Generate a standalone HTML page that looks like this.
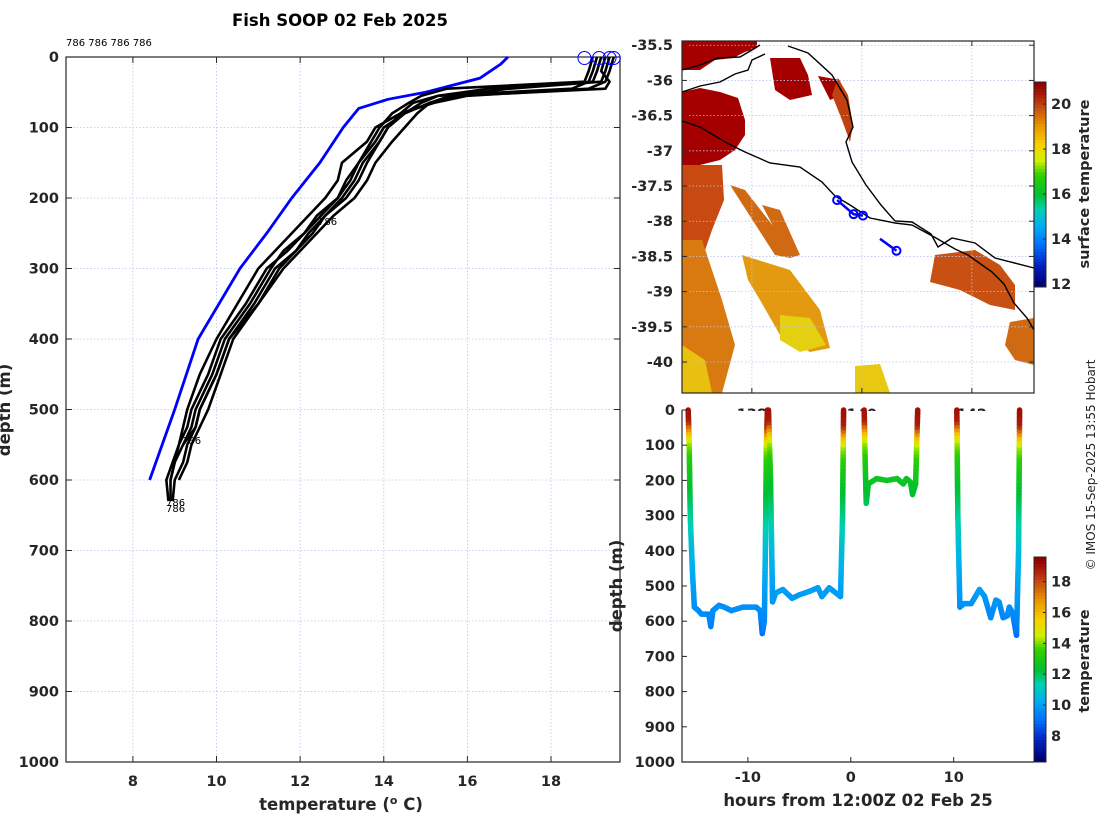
<!DOCTYPE html>
<html><head><meta charset="utf-8"><style>
html,body{margin:0;padding:0;background:#fff;}
svg{display:block;font-family:"DejaVu Sans","Liberation Sans",sans-serif;}
.tk{font-size:14.5px;font-weight:bold;fill:#262626;}
.lb{font-size:16.5px;font-weight:bold;fill:#262626;}
</style></head><body>
<svg id="s" width="1100" height="820" viewBox="0 0 1100 820" xmlns="http://www.w3.org/2000/svg">
<rect width="1100" height="820" fill="#fff"/>
<text x="340" y="26" text-anchor="middle" style="font-size:16.5px;font-weight:bold;fill:#000">Fish SOOP 02 Feb 2025</text>
<g id="left"></g>
<g id="map"></g>
<g id="ts"></g>
<text transform="translate(1095,465) rotate(-90)" text-anchor="middle" style="font-size:12px;fill:#262626">© IMOS 15-Sep-2025 13:55 Hobart</text>
</svg>
<script>
// ---------- data: left profiles ----------
const profDepths=[0,20,35,45,55,65,80,100,120,150,175,200,225,250,275,300,350,400,450,500,525,550,575,600,630];
const prof1=[19.0,18.9,18.8,15.5,14.9,14.6,14.2,13.9,13.7,13.4,13.1,12.9,12.5,12.1,11.7,11.2,10.7,10.1,9.8,9.4,9.3,9.1,9.0,8.9,8.9];
const prof2=[19.2,19.1,19.0,16.5,15.3,14.9,14.5,14.1,13.9,13.5,13.3,13.0,12.6,12.3,11.9,11.4,10.9,10.3,10.0,9.6,9.5,9.3,9.2,9.0,8.95];
const prof3=[19.4,19.3,19.2,17.0,15.6,15.1,14.8,14.5,14.2,13.8,13.6,13.3,12.8,12.4,12.0,11.6,11.0,10.4,10.1,9.8,9.6,9.4,9.3,9.1,null];
const prof4=[19.5,19.4,19.3,18.9,16.0,15.2,14.4,13.8,13.6,13.0,12.9,12.6,12.2,11.8,11.4,11.0,10.5,10.0,9.6,9.3,9.2,9.1,8.95,8.8,8.85];
const prof5=[19.3,19.2,19.4,19.3,15.8,15.1,14.5,14.0,13.8,13.4,13.2,12.9,12.4,12.1,11.6,11.3,10.8,10.2,9.9,9.5,9.4,9.2,9.0,8.9,null];
const prof6=[19.1,19.0,18.9,18.5,15.3,14.7,14.4,14.1,13.9,13.6,13.4,13.1,12.6,12.2,11.9,11.5,11.0,10.3,10.0,9.6,9.5,9.2,null,null,null];
const climDepths=[0,10,30,50,60,73,100,150,200,250,300,400,500,600];
const climTemps=[16.97,16.8,16.3,15.0,14.1,13.4,13.03,12.47,11.8,11.2,10.56,9.56,9.0,8.4];
const surfTemps=[18.8,19.15,19.4,19.5];
const tempTicks=[8,10,12,14,16,18];
const depthTicks=[0,100,200,300,400,500,600,700,800,900,1000];
// ---------- data: time series ----------
const diveA_t=[-15.8,-15.7,-15.6,-15.4,-15.2,-14.8,-14.5,-13.8,-13.6,-13.4,-12.8,-12.3,-11.6,-10.5,-9.2,-8.8,-8.6,-8.4,-8.3,-8.2,-8.1];
const diveA_d=[0,100,300,450,560,570,580,580,615,570,555,560,570,560,560,570,635,600,400,100,0];
const diveB_t=[-8.0,-7.8,-7.6,-7.3,-6.6,-5.7,-5.0,-4.0,-3.2,-2.8,-2.1,-1.0,-0.8,-0.7];
const diveB_d=[0,200,545,520,510,535,525,515,505,530,505,530,300,0];
const diveC_t=[1.3,1.4,1.5,1.7,2.5,3.5,4.5,5.1,5.4,5.8,6.0,6.3,6.5];
const diveC_d=[0,150,265,210,195,200,195,210,195,205,240,210,0];
const diveD_t=[10.3,10.4,10.6,11.0,11.7,12.5,13.0,13.6,14.1,14.4,14.8,15.2,15.4,15.7,16.1,16.3,16.4];
const diveD_d=[0,300,560,550,550,510,530,590,540,545,590,585,560,575,640,400,0];
const sTempDepth=[0,40,60,80,100,150,200,300,400,500,600,650];
const sTempVal=[19.2,18.8,17.2,15.5,14.3,13.2,12.6,11.6,10.6,10.0,9.4,8.8];
const hourTicks=[-10,0,10];
// ---------- data: map ----------
const latTicks=[-35.5,-36,-36.5,-37,-37.5,-38,-38.5,-39,-39.5,-40];
const lonTicks=[138,140,142];
const trackLon=[139.55,139.85,140.02];
const trackLat=[-37.7,-37.9,-37.92];
const track2Lon=[140.33,140.63];
const track2Lat=[-38.25,-38.42];
const sstTicks=[12,14,16,18,20];
const cbTicks=[8,10,12,14,16,18];

const NS="http://www.w3.org/2000/svg";
function E(p,tag,a,txt){const e=document.createElementNS(NS,tag);for(const k in a)e.setAttribute(k,a[k]);if(txt!==undefined)e.textContent=txt;p.appendChild(e);return e;}
const CM=[[0,[0,0,112]],[0.1,[0,32,192]],[0.2,[0,112,255]],[0.3,[0,176,240]],[0.38,[0,208,176]],[0.45,[0,192,48]],[0.55,[48,208,0]],[0.62,[208,240,0]],[0.7,[248,208,0]],[0.8,[232,144,0]],[0.88,[200,80,16]],[0.95,[168,24,8]],[1,[144,0,0]]];
function jet(v){v=Math.max(0,Math.min(1,v));for(let i=1;i<CM.length;i++){if(v<=CM[i][0]){const f=(v-CM[i-1][0])/(CM[i][0]-CM[i-1][0]);const a=CM[i-1][1],b=CM[i][1];return `rgb(${Math.round(a[0]+f*(b[0]-a[0]))},${Math.round(a[1]+f*(b[1]-a[1]))},${Math.round(a[2]+f*(b[2]-a[2]))})`;}}return "rgb(144,0,0)";}
function interp(xs,ys,x){if(x<=xs[0])return ys[0];for(let i=1;i<xs.length;i++){if(x<=xs[i]){const f=(x-xs[i-1])/(xs[i]-xs[i-1]);return ys[i-1]+f*(ys[i]-ys[i-1]);}}return ys[ys.length-1];}
const grid={stroke:"#b8c4ec","stroke-width":0.8,"stroke-dasharray":"1.5,2"};

// ===== LEFT PLOT =====
(function(){
const g=document.getElementById('left');
const L=66,R=620,T=57,B=762,xmin=6.4,xmax=19.65;
const X=t=>L+(t-xmin)/(xmax-xmin)*(R-L), Y=d=>T+d/1000*(B-T);
tempTicks.forEach(t=>{const l=E(g,'line',Object.assign({x1:X(t),x2:X(t),y1:T,y2:B},grid));});
depthTicks.forEach(d=>{const l=E(g,'line',Object.assign({x1:L,x2:R,y1:Y(d),y2:Y(d)},grid));});
const fr=E(g,'rect',{x:L,y:T,width:R-L,height:B-T,fill:"none",stroke:"#262626","stroke-width":1.2});

tempTicks.forEach(t=>{E(g,'line',{x1:X(t),x2:X(t),y1:B,y2:B-6,stroke:"#262626"});E(g,'line',{x1:X(t),x2:X(t),y1:T,y2:T+6,stroke:"#262626"});
 const tx=E(g,'text',{x:X(t),y:B+24,"text-anchor":"middle",class:"tk"},String(t));});
depthTicks.forEach(d=>{E(g,'line',{x1:L,x2:L+6,y1:Y(d),y2:Y(d),stroke:"#262626"});E(g,'line',{x1:R,x2:R-6,y1:Y(d),y2:Y(d),stroke:"#262626"});
 const tx=E(g,'text',{x:L-7,y:Y(d)+5,"text-anchor":"end",class:"tk"},String(d));});
const xl=E(g,'text',{x:341,y:810,"text-anchor":"middle",class:"lb"});
xl.innerHTML='temperature (<tspan dy="-6" font-size="11">o</tspan><tspan dy="6"> C)</tspan>';
const yl=E(g,'text',{transform:"translate(10,410) rotate(-90)","text-anchor":"middle",class:"lb"},"depth (m)");
let pts=climDepths.map((d,i)=>X(climTemps[i])+","+Y(d)).join(" ");
const cl=E(g,'polyline',{points:pts,fill:"none",stroke:"#0000ff","stroke-width":2.8});
[prof1,prof2,prof3,prof4,prof5,prof6].forEach((p,k)=>{const ps=[];p.forEach((t,i)=>{if(t!==null)ps.push(X(t)+","+Y(profDepths[i]));});
 const pl=E(g,'polyline',{points:ps.join(" "),fill:"none",stroke:"#000","stroke-width":2.6,"stroke-linejoin":"round"});});
surfTemps.forEach(t=>{const c=E(g,'circle',{cx:X(t),cy:T+1,r:6.5,fill:"none",stroke:"#0000ff","stroke-width":1});});
[[66,46,"786 786 786 786"],[318,225,"786"],[182,444,"786"],[166,506,"786"],[166,512,"786"]].forEach(a=>{const t=E(g,'text',{x:a[0],y:a[1],style:"font-size:10px;fill:#000"},a[2]);});
})();

// ===== MAP =====
(function(){
const g=document.getElementById('map');
const L=682,R=1034,T=41,B=393,lon0=136.73,lon1=143.13,lat0=-35.44,lat1=-40.44;
const X=o=>L+(o-lon0)/(lon1-lon0)*(R-L), Y=a=>T+(a-lat0)/(lat1-lat0)*(B-T);
const polys=[
["#a50000","682,41 757,41 757,48 745,52 733,58 715,60 700,70 682,70"],
["#a50000","682,92 700,88 720,92 738,98 745,120 745,135 735,150 720,160 700,165 682,165"],
["#a50000","770,58 800,58 808,75 812,95 790,100 775,90"],
["#a50000","818,76 840,80 842,95 830,100"],
["#c04010","838,78 848,95 853,125 850,142 842,120 832,95"],
["#c84a10","682,165 722,165 724,200 712,230 700,265 690,300 682,320"],
["#d87a10","682,240 702,240 722,300 735,345 722,393 682,393"],
["#e8c010","682,345 705,360 712,393 682,393"],
["#d06a12","730,185 745,190 792,250 790,258 775,255"],
["#d06a12","762,205 780,210 800,255 790,258"],
["#e39a10","742,255 790,270 820,310 830,348 810,352 780,335 760,300 748,280"],
["#e4d010","780,315 810,318 826,345 800,352 780,340"],
["#e8c810","855,366 880,364 890,393 855,393"],
["#c85012","935,255 975,250 1000,265 1015,285 1015,310 990,305 960,290 930,282"],
["#d06a12","1010,322 1034,318 1034,365 1015,360 1005,345"]];
polys.forEach(p=>{const e=E(g,'polygon',{points:p[1],fill:p[0]});});
latTicks.forEach(a=>{const l=E(g,'line',Object.assign({x1:L,x2:R,y1:Y(a),y2:Y(a)},grid));});
lonTicks.forEach(o=>{const l=E(g,'line',Object.assign({x1:X(o),x2:X(o),y1:T,y2:B},grid));});
const coast1="682,121 700,127 727,143 745,152 770,163 800,167 822,182 835,196 850,205 870,218 895,223 912,225 936,238 955,249 968,255 992,272 1004,284 1014,303 1027,318 1034,330";
const coast2="788,46 808,53 832,75 847,100 853,127 846,142 852,162 866,185 881,205 895,221 912,222 931,234 938,247 952,238 975,243 995,258 1034,268";
const coast3="682,70 700,65 718,58 740,57 752,50 760,45";
const coast4="682,92 700,86 720,82 735,74 748,70 752,60 765,54";
[coast1,coast2,coast3,coast4].forEach(c=>{const e=E(g,'polyline',{points:c,fill:"none",stroke:"#000","stroke-width":1.4});});
const t1=E(g,'polyline',{points:trackLon.map((o,i)=>X(o)+","+Y(trackLat[i])).join(" "),fill:"none",stroke:"#0000ff","stroke-width":2.5});
const t2=E(g,'polyline',{points:track2Lon.map((o,i)=>X(o)+","+Y(track2Lat[i])).join(" "),fill:"none",stroke:"#0000ff","stroke-width":2.5});
trackLon.concat([track2Lon[1]]).forEach((o,i)=>{const a=trackLat.concat([track2Lat[1]])[i];const c=E(g,'circle',{cx:X(o),cy:Y(a),r:4,fill:"none",stroke:"#0000ff","stroke-width":2});});
const fr=E(g,'rect',{x:L,y:T,width:R-L,height:B-T,fill:"none",stroke:"#262626","stroke-width":1.2});
latTicks.forEach(a=>{E(g,'line',{x1:L,x2:L+5,y1:Y(a),y2:Y(a),stroke:"#262626"});E(g,'line',{x1:R,x2:R-5,y1:Y(a),y2:Y(a),stroke:"#262626"});
 const t=E(g,'text',{x:L-9,y:Y(a)+5,"text-anchor":"end",class:"tk"},String(a));});
lonTicks.forEach(o=>{E(g,'line',{x1:X(o),x2:X(o),y1:T,y2:T+5,stroke:"#262626"});E(g,'line',{x1:X(o),x2:X(o),y1:B,y2:B-5,stroke:"#262626"});
 const t=E(g,'text',{x:X(o),y:419,"text-anchor":"middle",class:"tk"},String(o));});
const cmin=11.87,cmax=20.98,cT=82,cB=287,cx=1034,cw=12;
const CY=v=>cB-(v-cmin)/(cmax-cmin)*(cB-cT);
for(let i=0;i<64;i++){const v0=cmin+(cmax-cmin)*i/64,v1=cmin+(cmax-cmin)*(i+1)/64;const r=E(g,'rect',{x:cx,y:CY(v1),width:cw,height:CY(v0)-CY(v1)+0.5,fill:jet(i/63)});}
E(g,'rect',{x:cx,y:cT,width:cw,height:cB-cT,fill:"none",stroke:"#262626","stroke-width":1});
sstTicks.forEach(v=>{E(g,'line',{x1:cx+cw,x2:cx+cw-3,y1:CY(v),y2:CY(v),stroke:"#262626"});const t=E(g,'text',{x:cx+17,y:CY(v)+5,class:"tk"},String(v));});
const ct=E(g,'text',{transform:"translate(1089,184) rotate(-90)","text-anchor":"middle",class:"tk"},"surface temperature");
})();

// ===== TIME SERIES =====
(function(){
const g=document.getElementById('ts');
const L=682,R=1034,T=410,B=762,h0=-16.4,h1=17.8;
const X=h=>L+(h-h0)/(h1-h0)*(R-L), Y=d=>T+d/1000*(B-T);
const bg=E(g,'rect',{x:L,y:T+1,width:R-L,height:B-T,fill:"#fff"});
const cmin=6.3,cmax=19.6;
[[diveA_t,diveA_d],[diveB_t,diveB_d],[diveC_t,diveC_d],[diveD_t,diveD_d]].forEach((dv,k)=>{
 const grp=E(g,'g',{});
 const ts=dv[0],ds=dv[1];
 for(let i=1;i<ts.length;i++){const n=Math.max(2,Math.ceil(Math.abs(ds[i]-ds[i-1])/10));
  for(let j=0;j<n;j++){const f0=j/n,f1=(j+1)/n;const ta=ts[i-1]+(ts[i]-ts[i-1])*f0,tb=ts[i-1]+(ts[i]-ts[i-1])*f1,da=ds[i-1]+(ds[i]-ds[i-1])*f0,db=ds[i-1]+(ds[i]-ds[i-1])*f1;
   const tmp=interp(sTempDepth,sTempVal,(da+db)/2);
   E(grp,'line',{x1:X(ta),y1:Y(da),x2:X(tb),y2:Y(db),stroke:jet((tmp-cmin)/(cmax-cmin)),"stroke-width":5.5,"stroke-linecap":"round"});}}
});
const fr=E(g,'polyline',{points:`${L},${T} ${L},${B} ${R},${B}`,fill:"none",stroke:"#262626","stroke-width":1.2});
depthTicks.forEach(d=>{E(g,'line',{x1:L,x2:L+5,y1:Y(d),y2:Y(d),stroke:"#262626"});const t=E(g,'text',{x:L-7,y:Y(d)+5,"text-anchor":"end",class:"tk"},String(d));});
hourTicks.forEach(h=>{E(g,'line',{x1:X(h),x2:X(h),y1:B,y2:B-5,stroke:"#262626"});const t=E(g,'text',{x:X(h),y:B+20,"text-anchor":"middle",class:"tk"},String(h));});
const xl=E(g,'text',{x:858,y:806,"text-anchor":"middle",class:"lb"},"hours from 12:00Z 02 Feb 25");
const yl=E(g,'text',{transform:"translate(622,586) rotate(-90)","text-anchor":"middle",class:"lb"},"depth (m)");
const cT=557,cB=762,cx=1034,cw=12;const CY=v=>cB-(v-cmin)/(cmax-cmin)*(cB-cT);
for(let i=0;i<64;i++){const v0=cmin+(cmax-cmin)*i/64,v1=cmin+(cmax-cmin)*(i+1)/64;const r=E(g,'rect',{x:cx,y:CY(v1),width:cw,height:CY(v0)-CY(v1)+0.5,fill:jet(i/63)});}
E(g,'rect',{x:cx,y:cT,width:cw,height:cB-cT,fill:"none",stroke:"#262626","stroke-width":1});
cbTicks.forEach(v=>{E(g,'line',{x1:cx+cw,x2:cx+cw-3,y1:CY(v),y2:CY(v),stroke:"#262626"});const t=E(g,'text',{x:cx+17,y:CY(v)+5,class:"tk"},String(v));});
const ct=E(g,'text',{transform:"translate(1089,661) rotate(-90)","text-anchor":"middle",class:"tk"},"temperature");
})();
</script>
</body></html>
